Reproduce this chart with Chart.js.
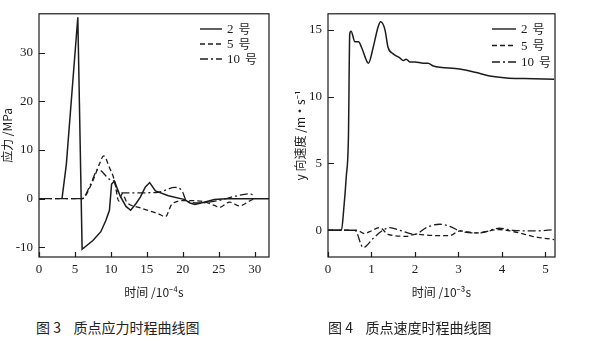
<!DOCTYPE html>
<html><head><meta charset="utf-8">
<script src="https://cdn.jsdelivr.net/npm/chart.js@4/dist/chart.umd.min.js"></script>
<style>
html,body{margin:0;padding:0;background:#fff;}
#wrap{position:relative;width:592px;height:351px;overflow:hidden;background:#fff;}
#c1{position:absolute;left:0;top:0;}
#c2{position:absolute;left:293px;top:0;}
.cap{position:absolute;top:317px;font-family:"Noto Sans CJK SC","Noto Sans",sans-serif;font-size:14px;color:#222;white-space:pre;}
</style></head>
<body><div id="wrap">
<canvas id="c1" width="295" height="300"></canvas>
<canvas id="c2" width="299" height="300"></canvas>
<div class="cap" style="left:36px">图 3    质点应力时程曲线图</div>
<div class="cap" style="left:328px">图 4    质点速度时程曲线图</div>
</div>
<script>
// ---- Figure 3: stress (MPa) vs time (10^-4 s)
const seriesNames = ['2 号', '5 号', '10 号'];
const f3XTicks = [0, 5, 10, 15, 20, 25, 30];
const f3YTicks = [-10, 0, 10, 20, 30];
const f3S2X = [3.2, 3.8, 5.4, 6.0, 7.5, 8.6, 9.3, 9.8, 10.1, 10.5, 11.3, 12.1, 12.75, 13.5, 14.1, 14.8, 15.4, 16.2, 18, 20.3, 21.0, 21.7, 23.1, 24.4, 26, 32];
const f3S2Y = [0, 7, 37.3, -10.4, -8.6, -6.8, -4.5, -2.4, 3.0, 3.6, 0.5, -1.6, -2.4, -1.0, 0.3, 2.4, 3.3, 1.6, 0.6, -0.2, -0.9, -1.2, -0.7, -0.2, 0, 0];
const f3S5X = [0, 6.0, 7.5, 8.4, 9.0, 9.8, 10.5, 11.1, 11.6, 12.2, 13.9, 16.6, 17.6, 18.5, 20.3, 22.5, 24.4, 25.1, 26.5, 27.9, 29.4, 30];
const f3S5Y = [0, 0, 3.7, 7.1, 8.8, 6.4, 3.7, -0.5, 1.0, -0.7, -1.8, -3.1, -3.7, -1.1, -0.4, -0.5, -1.4, -1.8, -0.7, -1.5, -0.4, 0];
const f3S10X = [0, 6.0, 7.2, 8.2, 9.8, 10.5, 10.9, 11.6, 14.2, 16.6, 18.9, 19.9, 20.5, 22.2, 24.9, 27.6, 29.3, 30];
const f3S10Y = [0, 0, 3, 6.0, 4.0, 3.4, 1.6, 1.2, 1.2, 1.3, 2.3, 1.6, -0.4, -0.9, -0.4, 0.6, 1.0, 0.5];

// ---- Figure 4: y-velocity (m/s) vs time (10^-3 s)
const f4XTicks = [0, 1, 2, 3, 4, 5];
const f4YTicks = [0, 5, 10, 15];
const f4S2X = [0, 0.31, 0.36, 0.42, 0.47, 0.5, 0.53, 0.62, 0.7, 0.77, 0.9, 0.93, 1.04, 1.15, 1.21, 1.31, 1.38, 1.5, 1.65, 1.73, 1.8, 1.88, 2.0, 2.19, 2.3, 2.42, 3.03, 3.41, 3.72, 4.1, 4.5, 5.2];
const f4S2Y = [0, 0, 1.5, 4, 7, 14.7, 14.9, 14.1, 14.1, 13.7, 12.6, 12.5, 13.7, 15.2, 15.6, 15.0, 13.7, 13.2, 12.9, 12.7, 12.8, 12.6, 12.6, 12.5, 12.5, 12.3, 12.07, 11.8, 11.55, 11.4, 11.35, 11.3];
const f4S5X = [0, 0.66, 0.85, 0.96, 1.19, 1.38, 1.8, 2.0, 2.5, 2.8, 3.03, 3.4, 3.94, 4.4, 4.7, 5.2];
const f4S5Y = [0, 0, -0.25, -0.1, 0.2, -0.3, -0.45, -0.3, -0.4, -0.4, -0.05, -0.2, 0.05, -0.2, -0.45, -0.7];
const f4S10X = [0, 0.62, 0.81, 1.04, 1.23, 1.42, 1.65, 2.0, 2.26, 2.57, 2.8, 3.03, 3.5, 3.94, 4.25, 4.77, 5.2];
const f4S10Y = [0, 0, -1.3, -0.6, -0.07, 0.2, 0, -0.3, 0.2, 0.45, 0.3, -0.05, -0.2, 0.15, 0, -0.05, 0.05];

const INK = '#1c1c1c';
const SERIF = '"Liberation Serif","DejaVu Serif",serif';
const CJK = '"Noto Sans CJK SC","Noto Sans",sans-serif';
const dashes = [[], [5, 3], [8, 3, 2, 3]];

function pts(xs, ys) { return xs.map((x, i) => ({x: x, y: ys[i]})); }
function ds(i, xs, ys, straight) {
  const d = {label: seriesNames[i], data: pts(xs, ys), borderColor: INK, borderWidth: i === 0 ? 1.5 : 1.3,
    borderDash: dashes[i], pointRadius: 0, fill: false};
  if (straight) { d.tension = 0; } else { d.cubicInterpolationMode = 'monotone'; }
  return d;
}

const framePlugin = {
  id: 'frame',
  afterDraw(chart, args, opts) {
    const ctx = chart.ctx, a = chart.chartArea;
    ctx.save();
    ctx.strokeStyle = INK; ctx.lineWidth = 1.2; ctx.setLineDash([]);
    ctx.strokeRect(a.left, a.top, a.right - a.left, a.bottom - a.top);
    const xs = chart.scales.x, ys = chart.scales.y;
    ctx.beginPath();
    xs.ticks.forEach(t => { const p = Math.round(xs.getPixelForValue(t.value)) + 0.5; ctx.moveTo(p, a.bottom); ctx.lineTo(p, a.bottom - 5); });
    ys.ticks.forEach(t => { const p = Math.round(ys.getPixelForValue(t.value)) + 0.5; ctx.moveTo(a.left, p); ctx.lineTo(a.left + 6, p); });
    ctx.stroke();
    // legend
    const L = opts.legend;
    chart.data.datasets.forEach((d, i) => {
      const y = L.y + i * L.dy;
      ctx.beginPath(); ctx.setLineDash(d.borderDash); ctx.lineWidth = 1.4;
      ctx.moveTo(L.x, y); ctx.lineTo(L.x + L.len, y); ctx.stroke();
      ctx.setLineDash([]);
      ctx.fillStyle = INK; ctx.textBaseline = 'middle'; ctx.textAlign = 'left';
      const parts = d.label.split(' ');
      ctx.font = '13px ' + SERIF; ctx.fillText(parts[0], L.x + L.len + 5, y + 1);
      const w = ctx.measureText(parts[0]).width;
      ctx.font = '12px ' + CJK; ctx.fillText(parts[1], L.x + L.len + 5 + w + 5, y);
    });
    ctx.restore();
  }
};

function makeChart(id, datasets, xMin, xMax, yMin, yMax, xTicks, yTicks, xTitle, yTitle, yW, pad, legend) {
  return new Chart(document.getElementById(id), {
    type: 'line',
    data: {datasets: datasets},
    plugins: [framePlugin],
    options: {
      responsive: false, animation: false, events: [],
      layout: {padding: pad},
      plugins: {legend: {display: false}, tooltip: {enabled: false}, frame: {legend: legend}},
      scales: {
        x: {type: 'linear', min: xMin, max: xMax,
          afterBuildTicks: s => { s.ticks = xTicks.map(v => ({value: v})); },
          afterFit: s => { s.height = 43; },
          grid: {display: false, drawTicks: false}, border: {display: false},
          ticks: {padding: 5, color: INK, font: {family: SERIF, size: 13}, maxRotation: 0},
          title: {display: true, text: xTitle, color: INK, font: {family: CJK, size: 12}, padding: {top: 5, bottom: 0}}},
        y: {type: 'linear', min: yMin, max: yMax,
          afterBuildTicks: s => { s.ticks = yTicks.map(v => ({value: v})); },
          afterFit: s => { s.width = yW; },
          grid: {display: false, drawTicks: false}, border: {display: false},
          ticks: {padding: 6, color: INK, font: {family: SERIF, size: 13}},
          title: {display: true, text: yTitle, color: INK, font: {family: CJK, size: 12}, padding: {top: 0, bottom: 0}}}
      }
    }
  });
}

makeChart('c1', [ds(0, f3S2X, f3S2Y, true), ds(1, f3S5X, f3S5Y), ds(2, f3S10X, f3S10Y)],
  0, 32, -12, 38, f3XTicks, f3YTicks, '时间 /10⁻⁴s', '应力 /MPa', 39,
  {left: 0, top: 10, right: 26, bottom: 0}, {x: 200, y: 29, dy: 15, len: 22});
makeChart('c2', [ds(0, f4S2X, f4S2Y), ds(1, f4S5X, f4S5Y), ds(2, f4S10X, f4S10Y)],
  0, 5.22, -2, 16.2, f4XTicks, f4YTicks, '时间 /10⁻³s', 'y 向速度 /m·s⁻¹', 35,
  {left: 0, top: 13, right: 37, bottom: 0}, {x: 199, y: 29, dy: 16.5, len: 24});
</script>
</body></html>
